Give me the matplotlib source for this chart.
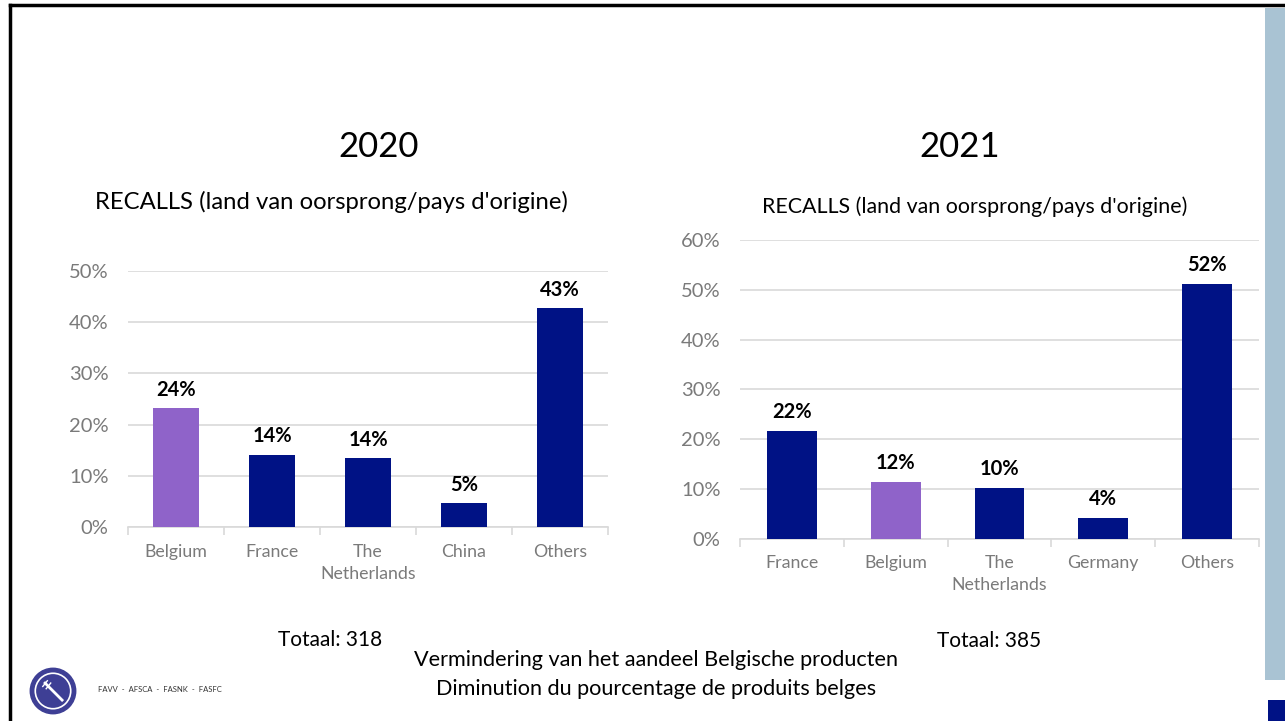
import matplotlib
matplotlib.use("Agg")
import matplotlib.pyplot as plt
from matplotlib.patches import Circle, Rectangle
from matplotlib.ticker import FixedLocator, PercentFormatter

plt.rcParams["font.family"] = ["Lato", "DejaVu Sans"]

# 2020 recalls by country of origin (%)
cats_2020 = ["Belgium", "France", "The\nNetherlands", "China", "Others"]
vals_2020 = [23.2, 14.1, 13.5, 4.7, 42.8]
labels_2020 = ["24%", "14%", "14%", "5%", "43%"]

# 2021 recalls by country of origin (%)
cats_2021 = ["France", "Belgium", "The\nNetherlands", "Germany", "Others"]
vals_2021 = [21.7, 11.4, 10.2, 4.2, 51.2]
labels_2021 = ["22%", "12%", "10%", "4%", "52%"]

total_2020 = 318
total_2021 = 385

NAVY = "#001285"
PURPLE = "#8f63c9"
GRID = "#d9d9d9"
TICK = "#7a7a7a"

W, H = 1285, 721


def draw_chart(ax, cats, vals, labels, ymax):
    x = range(len(cats))
    colors = [PURPLE if c == "Belgium" else NAVY for c in cats]
    bars = ax.bar(x, vals, width=0.48, color=colors, zorder=3)
    ax.set_xlim(-0.5, len(cats) - 0.5)
    ax.set_ylim(0, ymax)
    ax.set_yticks(range(0, ymax + 1, 10))
    ax.yaxis.set_major_formatter(PercentFormatter(decimals=0))
    ax.grid(axis="y", color=GRID, linewidth=1.2, zorder=0)
    ax.set_axisbelow(True)
    for s in ["top", "right", "left"]:
        ax.spines[s].set_visible(False)
    ax.spines["bottom"].set_color(GRID)
    ax.spines["bottom"].set_linewidth(1.2)

    ax.set_xticks(list(x))
    ax.set_xticklabels(cats, color=TICK, fontsize=12.8, linespacing=1.45, va="top")
    ax.tick_params(axis="x", which="major", length=0, pad=12)
    ax.xaxis.set_minor_locator(FixedLocator([i - 0.5 for i in range(len(cats) + 1)]))
    ax.tick_params(axis="x", which="minor", length=6, color=GRID, width=1.2)
    ax.tick_params(axis="y", length=0, pad=14, labelsize=14.5, labelcolor=TICK)

    for b, lab in zip(bars, labels):
        ax.annotate(lab, (b.get_x() + b.get_width() / 2, b.get_height()),
                    xytext=(0, 6), textcoords="offset points",
                    ha="center", va="bottom", fontsize=14.5,
                    fontweight="bold", color="black")


fig = plt.figure(figsize=(W / 100, H / 100), dpi=100)

ax1 = fig.add_axes([128 / W, 1 - 527 / H, 480 / W, 256 / H])
draw_chart(ax1, cats_2020, vals_2020, labels_2020, 50)

ax2 = fig.add_axes([740 / W, 1 - 538.5 / H, 519 / W, 298.5 / H])
draw_chart(ax2, cats_2021, vals_2021, labels_2021, 60)

# titles
fig.text(379 / W, 1 - 147 / H, "2020", ha="center", va="center", fontsize=25)
fig.text(960 / W, 1 - 147 / H, "2021", ha="center", va="center", fontsize=25)
fig.text(331 / W, 1 - 202 / H, "RECALLS (land van oorsprong/pays d'origine)",
         ha="center", va="center", fontsize=17.2)
fig.text(975 / W, 1 - 207 / H, "RECALLS (land van oorsprong/pays d'origine)",
         ha="center", va="center", fontsize=15.4)

fig.text(330 / W, 1 - 640 / H, f"Totaal: {total_2020}", ha="center", va="center", fontsize=15)
fig.text(989 / W, 1 - 641 / H, f"Totaal: {total_2021}", ha="center", va="center", fontsize=15)
fig.text(656 / W, 1 - 660 / H, "Vermindering van het aandeel Belgische producten",
         ha="center", va="center", fontsize=15.6)
fig.text(656 / W, 1 - 689 / H, "Diminution du pourcentage de produits belges",
         ha="center", va="center", fontsize=15.6)

# slide frame and side panel
fig.add_artist(plt.Line2D([10 / W, 1], [1 - 5 / H, 1 - 5 / H], color="black", lw=2.5))
fig.add_artist(plt.Line2D([10 / W, 10 / W], [0, 1 - 5 / H], color="black", lw=2.5))
fig.add_artist(Rectangle((1265 / W, 1 - 680 / H), 20 / W, 672 / H,
                         transform=fig.transFigure, color="#a9c3d3", lw=0))
fig.add_artist(Rectangle((1268 / W, 0), 17 / W, 21 / H,
                         transform=fig.transFigure, color="#001285", lw=0))

# logo
lax = fig.add_axes([28 / W, 1 - 716 / H, 50 / W, 50 / H])
lax.set_aspect("equal")
lax.axis("off")
lax.set_xlim(-1.1, 1.1)
lax.set_ylim(-1.1, 1.1)
lax.add_patch(Circle((0, 0), 1.0, color="#3e3f95"))
lax.add_patch(Circle((0, 0), 0.78, fill=False, ec="white", lw=1.2))
lax.plot([-0.35, 0.4], [0.35, -0.4], color="white", lw=2)
lax.plot([-0.45, -0.25], [0.2, 0.45], color="white", lw=1)
lax.plot([-0.3, -0.1], [0.1, 0.35], color="white", lw=1)
fig.text(98 / W, 1 - 690 / H, "FAVV  -  AFSCA  -  FASNK  -  FASFC",
         ha="left", va="center", fontsize=5.5, color="#333333")

fig.savefig("out.png", dpi=100)
